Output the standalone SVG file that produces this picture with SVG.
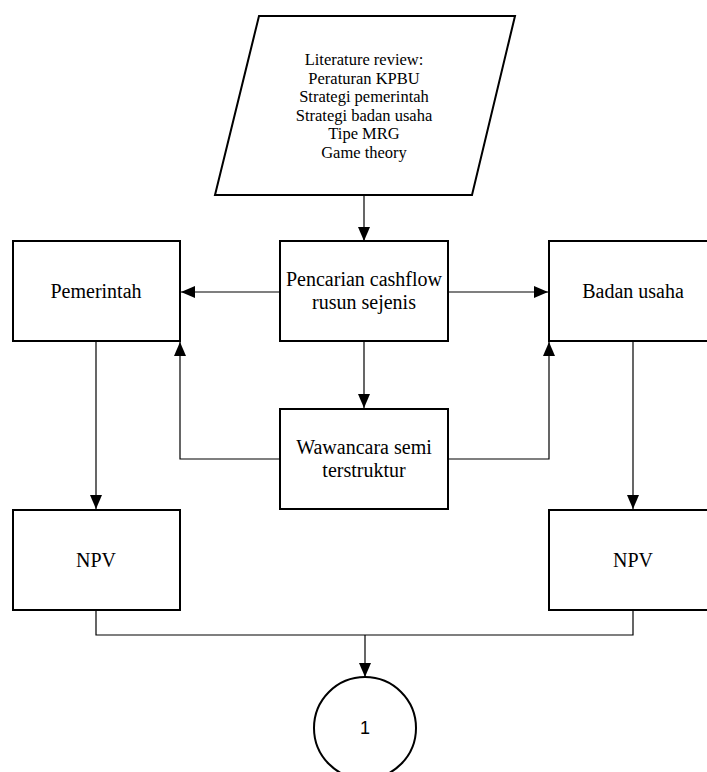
<svg xmlns="http://www.w3.org/2000/svg" width="707" height="772" viewBox="0 0 707 772">
<style>
.box{fill:#fff;stroke:#000;stroke-width:2}
.t{font-family:"Liberation Serif","Times New Roman",serif;font-size:20px;fill:#000;text-anchor:middle}
.ts{font-family:"Liberation Serif","Times New Roman",serif;font-size:16.5px;fill:#000;text-anchor:middle}
.c{fill:none;stroke:#000;stroke-width:1.2}
</style>
<defs>
<marker id="ah" viewBox="0 0 14 12" refX="14" refY="6" markerWidth="14" markerHeight="12" markerUnits="userSpaceOnUse" orient="auto">
<path d="M0,0 L14,6 L0,12 Z" fill="#000"/>
</marker>
</defs>
<rect width="707" height="772" fill="#fff"/>
<g id="connectors">
<path class="c" d="M364,196 V241" marker-end="url(#ah)"/>
<path class="c" d="M280,292 H181" marker-end="url(#ah)"/>
<path class="c" d="M448,292 H548" marker-end="url(#ah)"/>
<path class="c" d="M364,342 V408" marker-end="url(#ah)"/>
<path class="c" d="M280,459 H180 V342" marker-end="url(#ah)"/>
<path class="c" d="M448,459 H549 V342" marker-end="url(#ah)"/>
<path class="c" d="M96,342 V509" marker-end="url(#ah)"/>
<path class="c" d="M633,342 V509" marker-end="url(#ah)"/>
<path class="c" d="M96,611 V635 H633 V611"/>
<path class="c" d="M365,635 V677" marker-end="url(#ah)"/>
</g>
<g id="literature">
<polygon class="box" points="259,16 515,16 472,195 215,195"/>
<text class="ts" x="364" y="65">Literature review:</text>
<text class="ts" x="364" y="83.5">Peraturan KPBU</text>
<text class="ts" x="364" y="102">Strategi pemerintah</text>
<text class="ts" x="364" y="120.5">Strategi badan usaha</text>
<text class="ts" x="364" y="139">Tipe MRG</text>
<text class="ts" x="364" y="157.5">Game theory</text>
</g>
<g id="pemerintah">
<rect class="box" x="13" y="241" width="167" height="100"/>
<text class="t" x="96" y="298">Pemerintah</text>
</g>
<g id="pencarian">
<rect class="box" x="280" y="241" width="168" height="100"/>
<text class="t" x="364" y="286">Pencarian cashflow</text>
<text class="t" x="364" y="309">rusun sejenis</text>
</g>
<g id="badan">
<rect class="box" x="549" y="241" width="167" height="100"/>
<text class="t" x="633" y="298">Badan usaha</text>
</g>
<g id="wawancara">
<rect class="box" x="280" y="409" width="168" height="100"/>
<text class="t" x="364" y="454">Wawancara semi</text>
<text class="t" x="364" y="477">terstruktur</text>
</g>
<g id="npv1">
<rect class="box" x="13" y="510" width="167" height="100"/>
<text class="t" x="96" y="567">NPV</text>
</g>
<g id="npv2">
<rect class="box" x="549" y="510" width="167" height="100"/>
<text class="t" x="633" y="567">NPV</text>
</g>
<g id="connector1">
<circle cx="365" cy="728" r="51" fill="#fff" stroke="#000" stroke-width="2"/>
<text x="365" y="734" font-family="Liberation Sans, Arial, sans-serif" font-size="18" text-anchor="middle">1</text>
</g>
</svg>
